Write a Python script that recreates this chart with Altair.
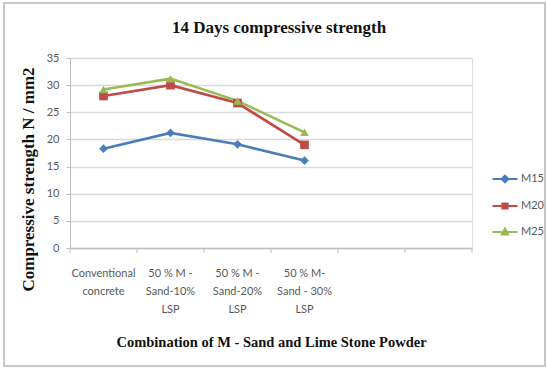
import altair as alt
import pandas as pd

# Mix designs on the x axis ("|" marks a line break in the tick label)
mixes = [
    "Conventional|concrete",
    "50 % M -|Sand-10%|LSP",
    "50 % M -|Sand-20%|LSP",
    "50 % M-|Sand - 30%|LSP",
]
# two unused category slots to the right, as in the spreadsheet chart
spare_slots = ["_slot5", "_slot6"]
all_slots = mixes + spare_slots

grades = ["M15", "M20", "M25"]
m15 = [18.3, 21.2, 19.1, 16.1]
m20 = [28.0, 30.0, 26.7, 19.0]
m25 = [29.2, 31.2, 27.1, 21.3]

grade_colors = ["#4A7EBB", "#BE4B48", "#98B954"]
grade_markers = ["diamond", "square", "triangle-up"]
# legend glyphs: a short line with the marker in the middle
legend_glyphs = [
    "M-1,0H1M0,-0.26L0.26,0L0,0.26L-0.26,0Z",
    "M-1,0H1M-0.2,-0.2H0.2V0.2H-0.2Z",
    "M-1,0H1M0,-0.26L0.24,0.2L-0.24,0.2Z",
]
y_ticks = [0, 5, 10, 15, 20, 25, 30, 35]

rows = []
for grade, vals in zip(grades, [m15, m20, m25]):
    for mix, v in zip(mixes, vals):
        rows.append({"mix": mix, "grade": grade, "strength": v})
df = pd.DataFrame(rows)
slots_df = pd.DataFrame({"mix": all_slots})

W, H = 402, 190
label_font = "Lato"
title_font = "Liberation Serif"
grey_text = "#595959"
axis_grey = "#bfbfbf"

x_scale = alt.Scale(domain=all_slots, type="band", paddingInner=0, paddingOuter=0)
y_scale = alt.Scale(domain=[0, 35], nice=False)
color_scale = alt.Scale(domain=grades, range=grade_colors)

y_axis = alt.Axis(
    values=y_ticks, title="Compressive strength N / mm2",
    titleFont=title_font, titleFontSize=17, titleFontWeight="bold", titleColor="#111111",
    titleX=-33, titleY=121, titleAngle=270, titleAlign="center", titleBaseline="bottom",
    labelFont=label_font, labelFontSize=11, labelColor=grey_text, labelPadding=7,
    tickSize=4, tickColor=axis_grey, domainColor=axis_grey,
    grid=True, gridColor="#d9d9d9", gridWidth=1.6,
)

x_axis = alt.Axis(
    orient="bottom", ticks=False, tickSize=0, grid=False, gridOpacity=0,
    labelExpr="indexof(datum.value, '_slot') == 0 ? '' : split(datum.value, '|')",
    labelFont=label_font, labelFontSize=11, labelColor=grey_text, labelAngle=0,
    labelBaseline="top", labelLineHeight=18, labelPadding=19,
    domainColor=axis_grey, domainWidth=1.5,
    title="Combination of M - Sand and Lime Stone Powder",
    titleFont=title_font, titleFontSize=14.5, titleFontWeight="bold", titleColor="#111111",
    titleY=94, titleBaseline="middle",
)

base = alt.Chart(df)
x_enc = alt.X("mix:N", scale=x_scale, sort=None, bandPosition=0.5, axis=x_axis)
y_enc = alt.Y("strength:Q", scale=y_scale, axis=y_axis)

lines = base.mark_line(strokeWidth=2.6).encode(
    x=x_enc,
    y=y_enc,
    color=alt.Color("grade:N", scale=color_scale),
    detail="grade:N",
)

marker_layers = [
    base.transform_filter(alt.datum.grade == g)
    .mark_point(filled=True, opacity=1, size=75, shape=shp)
    .encode(x=x_enc, y=y_enc, color=alt.Color("grade:N", scale=color_scale))
    for g, shp in zip(grades, grade_markers)
]

# small tick marks on the category slot boundaries, below the axis line
slot_ticks = alt.Chart(slots_df).mark_rule(color=axis_grey, strokeWidth=1).encode(
    x=alt.X("mix:N", scale=x_scale, sort=None, bandPosition=0, axis=x_axis),
    y=alt.value(H), y2=alt.value(H + 5),
)
end_tick = alt.Chart(slots_df).transform_filter(
    alt.datum.mix == all_slots[-1]
).mark_rule(color=axis_grey, strokeWidth=1).encode(
    x=alt.X("mix:N", scale=x_scale, sort=None, bandPosition=1, axis=x_axis),
    y=alt.value(H), y2=alt.value(H + 5),
)

# empty layer that only carries the legend
legend_layer = base.transform_filter("false").mark_point(filled=False, strokeWidth=2.2).encode(
    x=x_enc,
    y=y_enc,
    color=alt.Color("grade:N", scale=color_scale),
    shape=alt.Shape(
        "grade:N",
        scale=alt.Scale(domain=grades, range=legend_glyphs),
        legend=alt.Legend(
            title=None, orient="none", legendX=421, legendY=107,
            symbolSize=625, symbolStrokeWidth=2.2, rowPadding=5,
            labelFont=label_font, labelFontSize=11, labelColor=grey_text, labelOffset=2,
        ),
    ),
)

frame = alt.Chart(alt.Data(values=[{"k": 1}])).mark_rect(
    fillOpacity=0, stroke="#c8c8c8", strokeWidth=2
).encode(x=alt.value(-66), x2=alt.value(475), y=alt.value(-55), y2=alt.value(308))

chart = (
    alt.layer(slot_ticks, end_tick, lines, *marker_layers, legend_layer, frame)
    .properties(
        width=W, height=H,
        autosize=alt.AutoSizeParams(type="none"),
        padding={"left": 70, "top": 58, "right": 75, "bottom": 122},
        title=alt.TitleParams(
            "14 Days compressive strength", font=title_font, fontSize=17, fontWeight="bold",
            color="#111111", anchor="middle", dx=8, offset=22, dy=57,
        ),
    )
    .configure_view(strokeWidth=0)
    .configure_axisX(grid=False)
    .configure(background="white")
)

chart.save("out.html", embed_options={"renderer": "svg", "actions": False})
